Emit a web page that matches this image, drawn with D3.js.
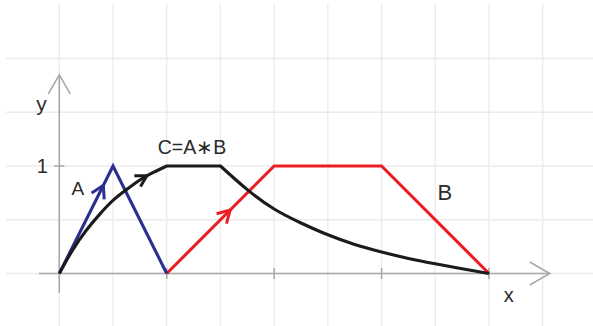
<!DOCTYPE html>
<html>
<head>
<meta charset="utf-8">
<script src="https://cdn.jsdelivr.net/npm/d3@7"></script>
<style>
  body { margin: 0; background: #fff; }
  svg { display: block; }
  text { font-family: "Liberation Sans", Arial, sans-serif; fill: #2a2a2a; }
</style>
</head>
<body>
<svg id="chart" width="593" height="326"></svg>
<script>
// signal A (triangle), B (trapezoid), C = A*B (sketch)
var aX = [0, 1, 2];
var aY = [0, 1, 0];
var bX = [2, 4, 6, 8];
var bY = [0, 1, 1, 0];
var cRiseX = [0, 0.25, 0.5, 0.75, 1, 1.25, 1.5, 1.75, 2];
var cRiseY = [0, 0.22, 0.40, 0.55, 0.68, 0.78, 0.87, 0.94, 1];
var cFlatX = [2, 3];
var cFlatY = [1, 1];
var cDecayX = [3, 3.5, 4, 4.5, 5, 5.5, 6, 6.5, 7, 7.5, 8];
var cDecayY = [1, 0.78, 0.60, 0.47, 0.36, 0.27, 0.20, 0.14, 0.09, 0.045, 0];
var xTicks = [2, 4, 6, 8];
var yTicks = [1];
var labels = [
  { t: "A", x: 0.345, y: 0.73, size: 19 },
  { t: "B", x: 7.18, y: 0.684, size: 22 },
  { t: "C=A\u2217B", x: 2.47, y: 1.108, size: 19.5 },
  { t: "x", x: 8.37, y: -0.268, size: 20 },
  { t: "y", x: -0.33, y: 1.513, size: 21 }
];
// arrow marks on the curves, placed at these x values
var arrowAt = { A: 0.82, B: 3.18, C: 1.63 };

var svg = d3.select("#chart"),
    width = +svg.attr("width"),
    height = +svg.attr("height");

var x = d3.scaleLinear().domain([0, 8]).range([59.3, 489]);
var y = d3.scaleLinear().domain([0, 1]).range([273.5, 166]);

var colA = "#2b2f8f", colB = "#ec1c24", colC = "#1b1b1b", axisCol = "#a9a9a9";

// grid
var grid = svg.append("g");
grid.selectAll("line.v")
  .data(d3.range(0, 10))
  .enter().append("line")
    .attr("x1", d => x(d)).attr("x2", d => x(d))
    .attr("y1", y(2.51)).attr("y2", height)
    .style("stroke", "#ebebeb").style("stroke-width", 1.3);
grid.selectAll("line.h")
  .data([0, 0.5, 1, 1.5, 2])
  .enter().append("line")
    .attr("x1", x(-0.99)).attr("x2", width)
    .attr("y1", d => y(d)).attr("y2", d => y(d))
    .style("stroke", "#ebebeb").style("stroke-width", 1.3);

function chevron(g, tx, ty, ang, len, col, w) {
  // ang = direction the arrow points (radians, screen coords)
  var back = ang + Math.PI, spread = Math.PI / 6;
  var p1 = [tx + len * Math.cos(back - spread), ty + len * Math.sin(back - spread)];
  var p2 = [tx + len * Math.cos(back + spread), ty + len * Math.sin(back + spread)];
  g.append("path")
    .attr("d", "M" + p1 + "L" + tx + "," + ty + "L" + p2)
    .style("fill", "none").style("stroke", col).style("stroke-width", w)
    .style("stroke-linejoin", "miter").style("stroke-linecap", "butt");
}

// axes
var ax = svg.append("g");
ax.append("line")
  .attr("x1", x(-0.378)).attr("x2", x(9.13))
  .attr("y1", y(0)).attr("y2", y(0))
  .style("stroke", axisCol).style("stroke-width", 1.6);
ax.append("line")
  .attr("x1", x(0)).attr("x2", x(0))
  .attr("y1", y(-0.18)).attr("y2", y(1.848))
  .style("stroke", axisCol).style("stroke-width", 1.6);
chevron(ax, x(9.13), y(0), 0, 23, axisCol, 1.6);
chevron(ax, x(0), y(1.848), -Math.PI / 2, 22, axisCol, 1.6);

ax.selectAll("line.xt")
  .data(xTicks)
  .enter().append("line")
    .attr("x1", d => x(d)).attr("x2", d => x(d))
    .attr("y1", y(0) - 5.5).attr("y2", y(0) + 5.5)
    .style("stroke", axisCol).style("stroke-width", 1.6);
ax.selectAll("line.yt")
  .data(yTicks)
  .enter().append("line")
    .attr("x1", x(0) - 5).attr("x2", x(0) + 5)
    .attr("y1", d => y(d)).attr("y2", d => y(d))
    .style("stroke", axisCol).style("stroke-width", 1.6);
ax.selectAll("text.yl")
  .data(yTicks)
  .enter().append("text")
    .attr("x", x(0) - 11.5)
    .attr("y", d => y(d) + 7)
    .attr("text-anchor", "end")
    .style("font-size", "20px")
    .text(d => d);

// curves
var line = d3.line().x(d => x(d[0])).y(d => y(d[1]));
var smooth = d3.line().x(d => x(d[0])).y(d => y(d[1])).curve(d3.curveNatural);
var zip = (xs, ys) => xs.map((v, i) => [v, ys[i]]);

var curves = svg.append("g")
  .style("fill", "none").style("stroke-width", 3.1)
  .style("stroke-linejoin", "miter").style("stroke-linecap", "butt");

var pathB = curves.append("path").attr("d", line(zip(bX, bY))).style("stroke", colB);
var pathA = curves.append("path").attr("d", line(zip(aX, aY))).style("stroke", colA);
var cD = smooth(zip(cRiseX, cRiseY)) +
         line(zip(cFlatX, cFlatY)).replace(/^M[^L]*/, "") +
         smooth(zip(cDecayX, cDecayY)).replace(/^M[^C]*/, "");
var pathC = curves.append("path").attr("d", cD).style("stroke", colC);

// arrowheads placed on the drawn paths
function arrowOn(path, xv, col, len) {
  var node = path.node(), total = node.getTotalLength(), tx = x(xv);
  var lo = 0, hi = total;
  for (var i = 0; i < 40; i++) {
    var mid = (lo + hi) / 2;
    if (node.getPointAtLength(mid).x < tx) lo = mid; else hi = mid;
  }
  var p = node.getPointAtLength(lo), q = node.getPointAtLength(Math.max(0, lo - 3));
  var ang = Math.atan2(p.y - q.y, p.x - q.x);
  chevron(svg, p.x, p.y, ang, len, col, 3);
}
arrowOn(pathA, arrowAt.A, colA, 14);
arrowOn(pathB, arrowAt.B, colB, 14);
arrowOn(pathC, arrowAt.C, colC, 12.5);

// labels
svg.append("g").selectAll("text")
  .data(labels)
  .enter().append("text")
    .attr("x", d => x(d.x))
    .attr("y", d => y(d.y))
    .attr("text-anchor", "middle")
    .style("font-size", d => d.size + "px")
    .text(d => d.t);
</script>
</body>
</html>
